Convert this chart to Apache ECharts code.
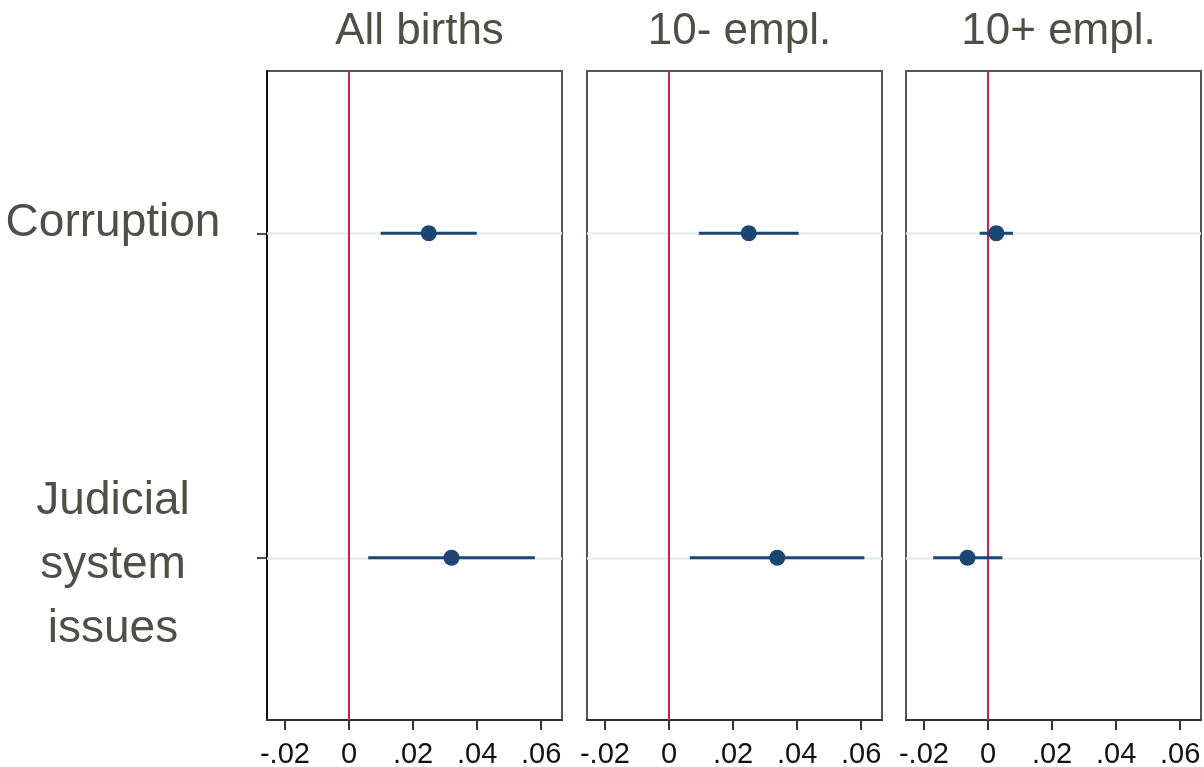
<!DOCTYPE html>
<html>
<head>
<meta charset="utf-8">
<script src="https://cdn.jsdelivr.net/npm/echarts@6/dist/echarts.min.js"></script>
<style>
html,body{margin:0;padding:0;background:#fff;}
#chart{width:1204px;height:767px;}
</style>
</head>
<body>
<div id="chart"></div>
<script>
// ---- data ----
const categories = ['Corruption', 'Judicial\nsystem\nissues'];
const panelTitles = ['All births', '10- empl.', '10+ empl.'];
// point estimates per panel: [Corruption, Judicial]
const estimates = [
  [0.0249, 0.0320],
  [0.0249, 0.0338],
  [0.0026, -0.0064]
];
const ciLow = [
  [0.0099, 0.0060],
  [0.0093, 0.0065],
  [-0.0026, -0.0171]
];
const ciHigh = [
  [0.0399, 0.0580],
  [0.0405, 0.0610],
  [0.0078, 0.0045]
];
const xTickValues = [-0.02, 0, 0.02, 0.04, 0.06];

// ---- layout ----
const panelLeft = [267, 587, 906];
const panelWidth = 295;
const gridTop = 71;
const gridBottom = 767 - 720;
const xMin = -0.0256, xMax = 0.0665;

const pointColor = '#1b4673';
const refColor = '#cf1f4c';
const textColor = '#4f4f47';
const fontFam = "'Liberation Sans', Arial, sans-serif";

function fmt(v) {
  if (Math.abs(v) < 1e-9) return '0';
  let s = v.toFixed(2);
  return s.replace('0.', '.');
}

const grids = [], xAxes = [], yAxes = [], series = [], titles = [];
panelTitles.forEach((t, p) => {
  grids.push({
    left: panelLeft[p], width: panelWidth, top: gridTop, bottom: gridBottom,
    show: true, borderColor: '#555', borderWidth: 2, containLabel: false,
    outerBoundsMode: 'none'
  });
  titles.push({
    text: t, left: panelLeft[p] + panelWidth / 2, top: 5, textAlign: 'center',
    textStyle: { fontFamily: fontFam, fontSize: 44, fontWeight: 'normal', color: textColor }
  });
  xAxes.push({
    type: 'value', gridIndex: p, min: xMin, max: xMax,
    axisLine: { show: true, onZero: false, lineStyle: { color: '#333', width: 2 } },
    axisTick: { show: true, length: 10, customValues: xTickValues, lineStyle: { color: '#333', width: 2 } },
    axisLabel: {
      show: true, customValues: xTickValues, margin: 20, formatter: fmt,
      fontFamily: fontFam, fontSize: 29, color: '#111'
    },
    splitLine: { show: false }
  });
  yAxes.push({
    type: 'category', gridIndex: p, data: categories, inverse: true, boundaryGap: true,
    axisLine: { show: true, onZero: false, lineStyle: { color: p === 0 ? '#111' : '#555', width: 2 } },
    axisTick: { show: p === 0, alignWithLabel: true, length: 10, lineStyle: { color: '#111', width: 1.5 } },
    axisLabel: {
      show: p === 0, margin: 154, align: 'center', fontFamily: fontFam, fontSize: 46,
      lineHeight: 64, color: textColor, padding: [16, 0, 0, 0],
      formatter: function (v) {
        if (v === 'Corruption') return '{c|' + v + '}';
        return v.split('\n').map(s => '{j|' + s + '}').join('\n');
      },
      rich: {
        c: { fontFamily: fontFam, fontSize: 46, color: textColor, lineHeight: 64, padding: [0, 0, 36, 0] },
        j: { fontFamily: fontFam, fontSize: 46, color: textColor, lineHeight: 64 }
      }
    },
    splitLine: { show: false }
  });
  // gridlines at categories
  series.push({
    type: 'scatter', xAxisIndex: p, yAxisIndex: p, data: [], z: 1, silent: true,
    markLine: {
      z: 1, silent: true, symbol: 'none', animation: false, label: { show: false },
      lineStyle: { color: '#e5eef1', width: 2.5, type: 'solid' },
      emphasis: { disabled: true },
      data: categories.map((c, i) => ({ yAxis: i }))
    }
  });
  // reference line at zero
  series.push({
    type: 'scatter', xAxisIndex: p, yAxisIndex: p, data: [], z: 2, silent: true,
    markLine: {
      z: 2, silent: true, symbol: 'none', animation: false, label: { show: false },
      lineStyle: { color: refColor, width: 2, type: 'solid' },
      emphasis: { disabled: true },
      data: [{ xAxis: 0 }]
    }
  });
  // CI lines
  series.push({
    type: 'custom', xAxisIndex: p, yAxisIndex: p, z: 3, silent: true,
    data: categories.map((c, i) => [ciLow[p][i], ciHigh[p][i], i]),
    encode: { x: [0, 1], y: 2 },
    renderItem: function (params, api) {
      const a = api.coord([api.value(0), api.value(2)]);
      const b = api.coord([api.value(1), api.value(2)]);
      return {
        type: 'line',
        shape: { x1: a[0], y1: a[1], x2: b[0], y2: b[1] },
        style: { stroke: pointColor, lineWidth: 3 }
      };
    }
  });
  // point estimates
  series.push({
    type: 'scatter', xAxisIndex: p, yAxisIndex: p, z: 4, silent: true,
    symbol: 'circle', symbolSize: 16, itemStyle: { color: pointColor, opacity: 1 },
    data: categories.map((c, i) => [estimates[p][i], i])
  });
});

const chart = echarts.init(document.getElementById('chart'), null, { renderer: 'canvas' });
chart.setOption({
  backgroundColor: '#fff',
  animation: false,
  title: titles,
  grid: grids,
  xAxis: xAxes,
  yAxis: yAxes,
  series: series
});
</script>
</body>
</html>
